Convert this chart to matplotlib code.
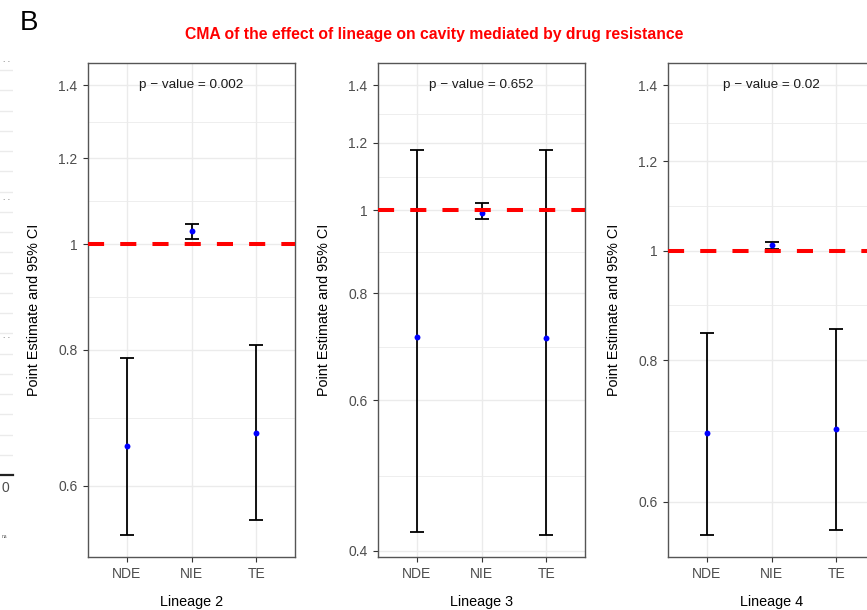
import numpy as np
import matplotlib
matplotlib.use('Agg')
import matplotlib.pyplot as plt
from matplotlib.ticker import FixedLocator, NullFormatter, FixedFormatter

plt.rcParams['font.family'] = ['Liberation Sans', 'DejaVu Sans']

# ---------------- data ----------------
effects = ['NDE', 'NIE', 'TE']
lineages = ['Lineage 2', 'Lineage 3', 'Lineage 4']
p_values = ['0.002', '0.652', '0.02']
estimate = [[0.653, 1.029, 0.671],
            [0.712, 0.994, 0.710],
            [0.690, 1.011, 0.695]]
ci_lower = [[0.541, 1.011, 0.558],
            [0.4205, 0.978, 0.418],
            [0.561, 1.004, 0.566]]
ci_upper = [[0.786, 1.044, 0.808],
            [1.177, 1.019, 1.178],
            [0.846, 1.017, 0.853]]
ref_value = 1.0
pval_y = 1.4
y_breaks = [0.4, 0.6, 0.8, 1.0, 1.2, 1.4]
y_break_labels = ['0.4', '0.6', '0.8', '1', '1.2', '1.4']
title = 'CMA of the effect of lineage on cavity mediated by drug resistance'
ylabel = 'Point Estimate and 95% CI'

# ---------------- layout ----------------
W, H = 867, 610
fig = plt.figure(figsize=(W / 100, H / 100), dpi=100)


def px(x, y, w, h):
    return [x / W, 1 - (y + h) / H, w / W, h / H]


GRID = '#EBEBEB'
DARK = '#333333'
TICKC = '#4D4D4D'

# remnant of neighbouring panel A on the far left
ax0 = fig.add_axes(px(-60, 50, 73, 425))
ax0.set_xlim(-65, 8)
ax0.set_ylim(0, 21)
for yy in range(1, 21):
    ax0.axhline(yy, color=GRID, lw=1.0, zorder=0)
for s in ['left', 'right', 'top']:
    ax0.spines[s].set_visible(False)
ax0.spines['bottom'].set_color('#222222')
ax0.spines['bottom'].set_linewidth(1.6)
ax0.set_yticks([])
ax0.set_xticks([0])
ax0.set_xticklabels(['0'])
ax0.tick_params(axis='x', length=0, labelsize=10, labelcolor=TICKC, pad=4)
for yy in [60, 199, 337]:
    fig.text(3 / W, 1 - yy / H, '. .', fontsize=6, color='#555555', va='center')
fig.text(2 / W, 1 - 537 / H, 'na', fontsize=3.5, color='#555555', va='center')

lefts = [88, 378, 668]
pw, top, bot = 207, 63, 557
x = np.arange(1, len(effects) + 1)

for i in range(3):
    ax = fig.add_axes(px(lefts[i], top, pw, bot - top))
    est = np.array(estimate[i])
    lo = np.array(ci_lower[i])
    hi = np.array(ci_upper[i])
    ax.set_yscale('log')
    ymin = np.log(min(lo.min(), ref_value))
    ymax = np.log(max(hi.max(), pval_y))
    r = ymax - ymin
    ax.set_ylim(np.exp(ymin - 0.05 * r), np.exp(ymax + 0.05 * r))
    ax.set_xlim(0.4, 3.6)
    yl = ax.get_ylim()

    majors = [b for b in y_breaks if yl[0] <= b <= yl[1]]
    labels = [lab for b, lab in zip(y_breaks, y_break_labels) if yl[0] <= b <= yl[1]]
    minors = [np.sqrt(a * b) for a, b in zip(y_breaks[:-1], y_breaks[1:])
              if yl[0] <= np.sqrt(a * b) <= yl[1]]
    ax.yaxis.set_major_locator(FixedLocator(majors))
    ax.yaxis.set_major_formatter(FixedFormatter(labels))
    ax.yaxis.set_minor_locator(FixedLocator(minors))
    ax.yaxis.set_minor_formatter(NullFormatter())
    ax.set_xticks(x)
    ax.set_xticklabels(effects)

    ax.grid(which='major', color=GRID, lw=1.0)
    ax.grid(which='minor', axis='y', color=GRID, lw=0.6)
    ax.set_axisbelow(True)

    ax.errorbar(x, est, yerr=[est - lo, hi - est], fmt='none', ecolor='black',
                elinewidth=1.3, capsize=4.8, capthick=1.3, zorder=3)
    ax.scatter(x, est, s=18, color='#0000FF', zorder=4, linewidths=0)
    ax.axhline(ref_value, color='#FF0000', lw=2.9, linestyle=(0, (4, 4)), zorder=5)

    ax.text(2, pval_y, f'p \u2212 value = {p_values[i]}', ha='center', va='center',
            fontsize=9.7, color='#1A1A1A', zorder=6)

    for s in ax.spines.values():
        s.set_color('#555555')
        s.set_linewidth(1.0)
    ax.tick_params(which='major', length=3.5, width=0.8, color=DARK,
                   labelsize=10, labelcolor=TICKC, pad=4)
    ax.tick_params(which='minor', length=0)

    ax.set_ylabel(ylabel, fontsize=10.4, color='black')
    ax.yaxis.set_label_coords(-0.228, 0.5)
    ax.set_xlabel(lineages[i], fontsize=10.4, color='black')
    ax.xaxis.set_label_coords(0.5, -0.077)

fig.text(434 / W, 1 - 35 / H, title, color='#FF0000', fontweight='bold',
         fontsize=11.3, ha='center', va='center')
fig.text(20 / W, 1 - 23 / H, 'B', fontsize=20, ha='left', va='center', color='black')

fig.savefig('out.png', dpi=100)
